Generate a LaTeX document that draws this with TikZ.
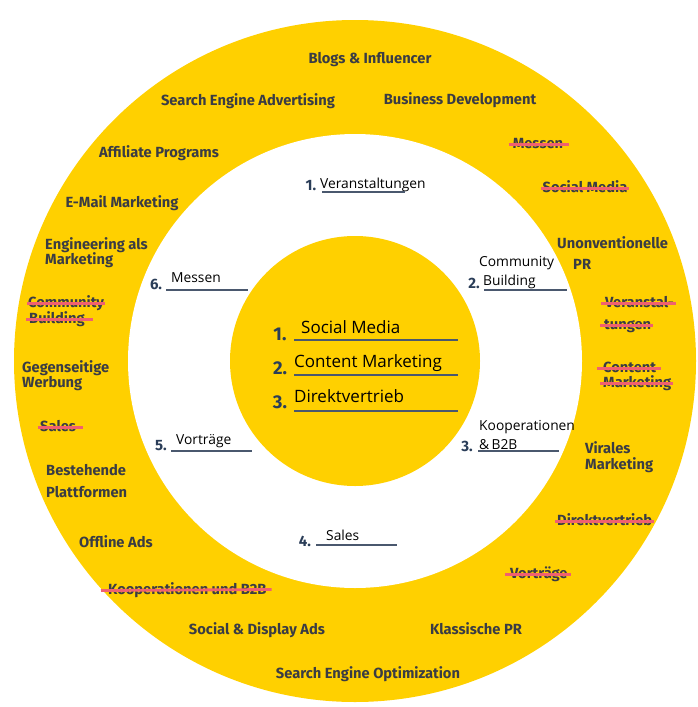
\documentclass[tikz,border=0pt]{standalone}
\usepackage{fontspec}
\setmainfont{Open Sans}
\newfontfamily\firafam{Fira Sans}
\definecolor{ringyellow}{RGB}{255,208,0}
\definecolor{txtgray}{RGB}{58,60,68}
\definecolor{numblue}{RGB}{42,61,88}
\definecolor{ulcol}{RGB}{74,88,110}
\definecolor{strikecol}{RGB}{240,96,112}
\tikzset{
  outer/.style={font=\firafam\bfseries\fontsize{14.7}{17}\selectfont, text=txtgray, inner sep=0pt},
  inlabel/.style={font=\fontsize{13.8}{16}\selectfont, text=black, inner sep=0pt},
  corelabel/.style={font=\fontsize{17}{20}\selectfont, text=black, inner sep=0pt},
  ringnum/.style={font=\firafam\bfseries\fontsize{15}{17}\selectfont, text=numblue, inner sep=0pt},
  corenum/.style={font=\firafam\bfseries\fontsize{18.5}{21}\selectfont, text=numblue, inner sep=0pt},
  uline/.style={draw=ulcol, line width=1.8pt},
  strk/.style={draw=strikecol, line width=2.8pt},
}
\begin{document}
\begin{tikzpicture}[x=1pt,y=-1pt]
\useasboundingbox (0,0) rectangle (698,707);
\coordinate (c) at (355,361);
\fill[ringyellow] (c) circle (341);
\fill[white] (c) circle (227);
\fill[ringyellow] (c) circle (125);

\begin{scope}[yshift=-3.5pt]
% outer ring labels
\node[outer,anchor=mid] (blogs) at (370,57) {Blogs \& Influencer};
\node[outer,anchor=mid] (sea) at (248,99) {Search Engine Advertising};
\node[outer,anchor=mid] (bizdev) at (460,98) {Business Development};
\node[outer,anchor=mid] (affil) at (159,151) {Affiliate Programs};
\node[outer,anchor=mid] (messenS) at (538,142) {Messen};
\node[outer,anchor=mid] (socmS) at (585,186) {Social Media};
\node[outer,anchor=mid] (email) at (122,201) {E-Mail Marketing};
\node[outer,anchor=mid west] (eng1) at (45,243) {Engineering als};
\node[outer,anchor=mid west] (eng2) at (45,258) {Marketing};
\node[outer,anchor=mid west] (unon1) at (557,242) {Unonventionelle};
\node[outer,anchor=mid west] (unon2) at (573,263) {PR};
\node[outer,anchor=mid west] (ver1S) at (605,301) {Veranstal-};
\node[outer,anchor=mid west] (ver2S) at (604,323) {tungen};
\node[outer,anchor=mid west] (com1S) at (28,301) {Community};
\node[outer,anchor=mid west] (com2S) at (29,317) {Building};
\node[outer,anchor=mid west] (con1S) at (603,366) {Content};
\node[outer,anchor=mid west] (con2S) at (603,381) {Marketing};
\node[outer,anchor=mid west] (geg1) at (22,366) {Gegenseitige};
\node[outer,anchor=mid west] (geg2) at (22,381) {Werbung};
\node[outer,anchor=mid west] (salesS) at (40,425) {Sales};
\node[outer,anchor=mid west] (vir1) at (585,447) {Virales};
\node[outer,anchor=mid west] (vir2) at (585,463) {Marketing};
\node[outer,anchor=mid west] (best1) at (46,469) {Bestehende};
\node[outer,anchor=mid west] (best2) at (46,491) {Plattformen};
\node[outer,anchor=mid west] (direktS) at (557,519) {Direktvertrieb};
\node[outer,anchor=mid west] (offline) at (79,541) {Offline Ads};
\node[outer,anchor=mid west] (vortS) at (510,572) {Vorträge};
\node[outer,anchor=mid west] (koopS) at (108,588) {Kooperationen und B2B};
\node[outer,anchor=mid] (socdisp) at (257,628) {Social \& Display Ads};
\node[outer,anchor=mid] (klass) at (476,628) {Klassische PR};
\node[outer,anchor=mid] (seo) at (368,672) {Search Engine Optimization};

% strike-throughs
\draw[strk] ([xshift=-4pt,yshift=1pt]messenS.mid west) -- ([xshift=6pt,yshift=1pt]messenS.mid east);
\draw[strk] ([xshift=-1pt,yshift=1pt]socmS.mid west) -- ([xshift=1pt,yshift=1pt]socmS.mid east);
\draw[strk] ([xshift=-4pt,yshift=1pt]ver1S.mid west) -- ([xshift=2pt,yshift=1pt]ver1S.mid east);
\draw[strk] ([xshift=-4pt,yshift=1pt]ver2S.mid west) -- ([xshift=2pt,yshift=1pt]ver2S.mid east);
\draw[strk] ([xshift=-1pt,yshift=1pt]com1S.mid west) -- ([xshift=1pt,yshift=1pt]com1S.mid east);
\draw[strk] ([xshift=-3pt,yshift=1pt]com2S.mid west) -- ([xshift=8pt,yshift=1pt]com2S.mid east);
\draw[strk] ([xshift=-6pt,yshift=1pt]con1S.mid west) -- ([xshift=5pt,yshift=1pt]con1S.mid east);
\draw[strk] ([xshift=-3pt,yshift=1pt]con2S.mid west) -- ([xshift=2pt,yshift=1pt]con2S.mid east);
\draw[strk] ([xshift=-2pt,yshift=1pt]salesS.mid west) -- ([xshift=7pt,yshift=1pt]salesS.mid east);
\draw[strk] ([xshift=-2pt,yshift=1pt]direktS.mid west) -- ([xshift=2pt,yshift=1pt]direktS.mid east);
\draw[strk] ([xshift=-5pt,yshift=1pt]vortS.mid west) -- ([xshift=3pt,yshift=1pt]vortS.mid east);
\draw[strk] ([xshift=-7pt,yshift=1pt]koopS.mid west) -- ([xshift=5pt,yshift=2pt]koopS.mid east);
\end{scope}

% white ring list
\node[ringnum,anchor=mid] (n1) at (311,188) {1.};
\node[inlabel,anchor=mid west] (l1) at (320,186) {Veranstaltungen};
\coordinate (u1a) at (322,192); \coordinate (u1b) at (405,192);
\draw[uline] (u1a) -- (u1b);

\node[ringnum,anchor=mid] (n2) at (474,286) {2.};
\node[inlabel,anchor=mid west] (l2a) at (479,264) {Community};
\node[inlabel,anchor=mid west] (l2b) at (483,283) {Building};
\coordinate (u2a) at (484,290); \coordinate (u2b) at (567,290);
\draw[uline] (u2a) -- (u2b);

\node[ringnum,anchor=mid] (n3) at (467,449) {3.};
\node[inlabel,anchor=mid west] (l3a) at (479,428) {Kooperationen};
\node[inlabel,anchor=mid west] (l3b) at (479,447) {\&\,B2B};
\coordinate (u3a) at (478,451); \coordinate (u3b) at (559,451);
\draw[uline] (u3a) -- (u3b);

\node[ringnum,anchor=mid] (n4) at (305,544) {4.};
\node[inlabel,anchor=mid west] (l4) at (326,538) {Sales};
\coordinate (u4a) at (316,545); \coordinate (u4b) at (397,545);
\draw[uline] (u4a) -- (u4b);

\node[ringnum,anchor=mid] (n5) at (161,448) {5.};
\node[inlabel,anchor=mid west] (l5) at (176,442) {Vorträge};
\coordinate (u5a) at (171,451); \coordinate (u5b) at (252,451);
\draw[uline] (u5a) -- (u5b);

\node[ringnum,anchor=mid] (n6) at (156,287) {6.};
\node[inlabel,anchor=mid west] (l6) at (171,280) {Messen};
\coordinate (u6a) at (166,290); \coordinate (u6b) at (248,290);
\draw[uline] (u6a) -- (u6b);

% core circle list
\node[corenum,anchor=mid] (c1) at (280,338) {1.};
\node[corelabel,anchor=mid west] (k1) at (301,331) {Social Media};
\coordinate (v1a) at (294,340); \coordinate (v1b) at (458,340);
\draw[uline] (v1a) -- (v1b);

\node[corenum,anchor=mid] (c2) at (280,372) {2.};
\node[corelabel,anchor=mid west] (k2) at (294,365) {Content Marketing};
\coordinate (v2a) at (294,375); \coordinate (v2b) at (458,375);
\draw[uline] (v2a) -- (v2b);

\node[corenum,anchor=mid] (c3) at (280,406) {3.};
\node[corelabel,anchor=mid west] (k3) at (294,400) {Direktvertrieb};
\coordinate (v3a) at (294,411); \coordinate (v3b) at (458,411);
\draw[uline] (v3a) -- (v3b);
\end{tikzpicture}
\end{document}
